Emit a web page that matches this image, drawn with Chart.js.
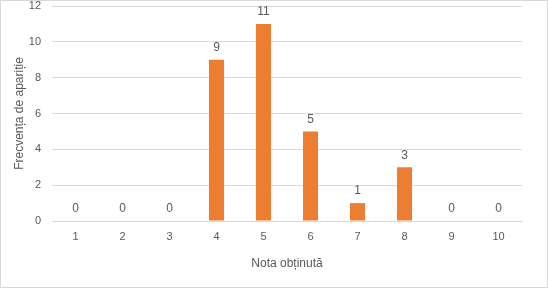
<!DOCTYPE html>
<html>
<head>
<meta charset="utf-8">
<script src="https://cdn.jsdelivr.net/npm/chart.js@4"></script>
<style>
  html, body { margin: 0; padding: 0; background: #fff; }
  #wrap { width: 548px; height: 288px; }
</style>
</head>
<body>
<div id="wrap"><canvas id="chart" width="548" height="288"></canvas></div>
<script>
// date
const note = ['1', '2', '3', '4', '5', '6', '7', '8', '9', '10'];
const frecvente = [0, 0, 0, 9, 11, 5, 1, 3, 0, 0];
const yTicks = [0, 2, 4, 6, 8, 10, 12];

const FONT = "'Liberation Sans', 'Open Sans', sans-serif";
const TEXT = '#595959';

// etichete cu valoarea deasupra fiecarei coloane
const valueLabels = {
    id: 'valueLabels',
    afterDatasetsDraw(chart) {
        const ctx = chart.ctx;
        const meta = chart.getDatasetMeta(0);
        ctx.save();
        ctx.font = '12px ' + FONT;
        ctx.fillStyle = TEXT;
        ctx.textAlign = 'center';
        ctx.textBaseline = 'bottom';
        meta.data.forEach((bar, i) => {
            ctx.fillText(String(frecvente[i]), bar.x, bar.y - 6);
        });
        ctx.restore();
    }
};

// fundal alb si chenar gri
const frame = {
    id: 'frame',
    beforeDraw(chart) {
        const ctx = chart.ctx;
        ctx.save();
        ctx.fillStyle = '#fff';
        ctx.fillRect(0, 0, chart.width, chart.height);
        ctx.strokeStyle = '#d9d9d9';
        ctx.lineWidth = 1;
        ctx.strokeRect(0.5, 0.5, chart.width - 1, chart.height - 1);
        ctx.restore();
    }
};

new Chart(document.getElementById('chart'), {
    type: 'bar',
    data: {
        labels: note,
        datasets: [{
            data: frecvente,
            backgroundColor: '#ED7D31',
            borderWidth: 0,
            categoryPercentage: 1,
            barPercentage: 0.32
        }]
    },
    options: {
        responsive: false,
        animation: false,
        layout: { padding: { top: 6, right: 26, bottom: 0, left: 0 } },
        plugins: {
            legend: { display: false },
            tooltip: { enabled: false }
        },
        scales: {
            x: {
                grid: { display: false, drawTicks: false },
                border: { color: '#d9d9d9' },
                ticks: { color: TEXT, font: { family: FONT, size: 11 }, padding: 9 },
                title: {
                    display: true,
                    text: 'Nota obținută',
                    color: TEXT,
                    font: { family: FONT, size: 12 },
                    padding: { top: 0, bottom: 17 }
                },
                afterFit(scale) {
                    scale.height = 67;
                    scale.paddingLeft = 0;
                    scale.paddingRight = 0;
                }
            },
            y: {
                min: 0,
                max: 12,
                afterBuildTicks(scale) { scale.ticks = yTicks.map(v => ({ value: v })); },
                grid: { color: '#d9d9d9', drawTicks: false },
                border: { display: false },
                ticks: { color: TEXT, font: { family: FONT, size: 11 }, padding: 11 },
                title: {
                    display: true,
                    text: 'Frecvența de apariție',
                    color: TEXT,
                    font: { family: FONT, size: 12 },
                    padding: { top: 12, bottom: 0 }
                },
                afterFit(scale) {
                    scale.width = 52;
                    scale.paddingTop = 0;
                    scale.paddingBottom = 0;
                }
            }
        }
    },
    plugins: [frame, valueLabels]
});
</script>
</body>
</html>
